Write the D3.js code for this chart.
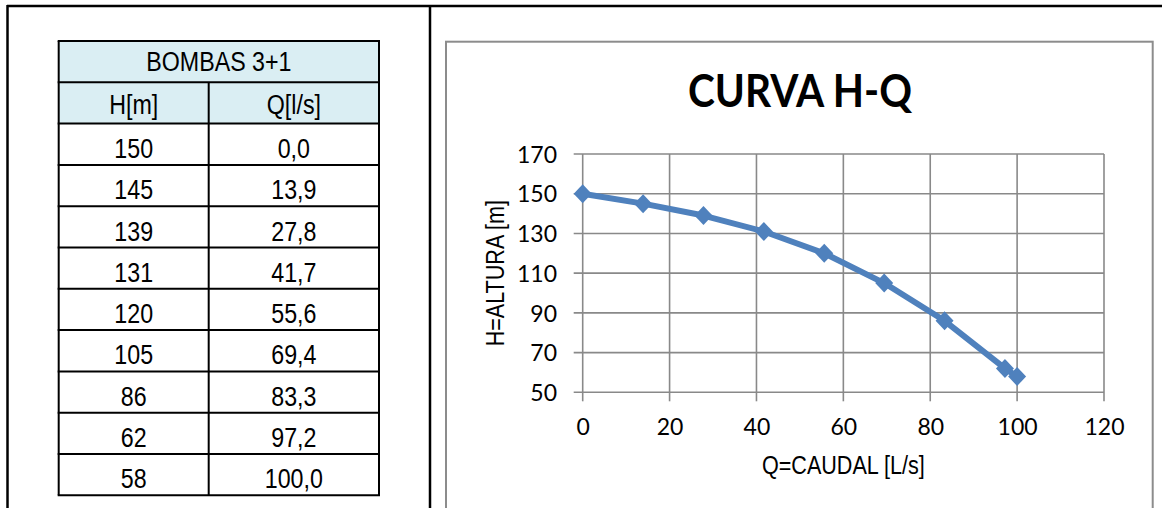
<!DOCTYPE html>
<html>
<head>
<meta charset="utf-8">
<script src="https://cdn.jsdelivr.net/npm/d3@7"></script>
<style>
  body { margin: 0; background: #fff; }
  svg { display: block; }
</style>
</head>
<body>
<script>
// pump curve data (BOMBAS 3+1)
const tableTitle = "BOMBAS 3+1";
const colHeads = ["H[m]", "Q[l/s]"];
const heights = [150, 145, 139, 131, 120, 105, 86, 62, 58];
const flows = [0.0, 13.9, 27.8, 41.7, 55.6, 69.4, 83.3, 97.2, 100.0];
const xTicks = [0, 20, 40, 60, 80, 100, 120];
const yTicks = [50, 70, 90, 110, 130, 150, 170];

const W = 1162, H = 508;
// no Arial Narrow here: squeeze Liberation Sans horizontally
const sans = "'Liberation Sans', Arial, sans-serif";
const squeeze = 0.83;
const calib = "Lato, Calibri, sans-serif";

const svg = d3.select("body").append("svg")
  .attr("width", W)
  .attr("height", H);

function narrowText(g, x, y, str, size, rot) {
  return g.append("text")
    .attr("transform", `translate(${x},${y})` + (rot ? ` rotate(${rot})` : "") + ` scale(${squeeze},1)`)
    .attr("text-anchor", "middle")
    .attr("font-family", sans)
    .attr("font-size", size)
    .attr("fill", "#000")
    .text(str);
}

// outer page frame
const frame = svg.append("g")
  .attr("stroke", "#000")
  .attr("stroke-width", 2.5);
frame.append("line").attr("x1", 7).attr("x2", W).attr("y1", 6).attr("y2", 6);
frame.append("line").attr("x1", 7.5).attr("x2", 7.5).attr("y1", 5).attr("y2", H + 5);
frame.append("line").attr("x1", 430).attr("x2", 430).attr("y1", 5).attr("y2", H + 5);

// ---- table ----
const fmt = d => d3.format(".1f")(d).replace(".", ",");
const rows = heights.map((h, i) => [String(h), fmt(flows[i])]);

const colX = [58.7, 208.7, 379];
const rowH = 41.3, tblTop = 41;
const ty = i => tblTop + i * rowH;

const tbl = svg.append("g");

tbl.append("rect")
  .attr("x", colX[0]).attr("y", ty(0))
  .attr("width", colX[2] - colX[0]).attr("height", rowH * 2)
  .attr("fill", "#daeef3");

// horizontal rules
tbl.selectAll("line.h")
  .data(d3.range(rows.length + 3))
  .join("line")
  .attr("class", "h")
  .attr("x1", colX[0] - 1).attr("x2", colX[2] + 1)
  .attr("y1", d => ty(d)).attr("y2", d => ty(d))
  .attr("stroke", "#000").attr("stroke-width", 2);

// vertical rules
tbl.selectAll("line.v")
  .data([0, 1, 2])
  .join("line")
  .attr("class", "v")
  .attr("x1", d => colX[d]).attr("x2", d => colX[d])
  .attr("y1", d => d === 1 ? ty(1) : ty(0))
  .attr("y2", ty(rows.length + 2))
  .attr("stroke", "#000").attr("stroke-width", 2);

narrowText(tbl, (colX[0] + colX[2]) / 2, ty(1) - 11, tableTitle, 28);

colHeads.forEach((v, j) => {
  narrowText(tbl, (colX[j] + colX[j + 1]) / 2, ty(2) - 10, v, 28);
});
rows.forEach((r, i) => {
  r.forEach((v, j) => {
    narrowText(tbl, (colX[j] + colX[j + 1]) / 2, ty(i + 3) - 7, v, 28);
  });
});

// ---- chart ----
svg.append("rect")
  .attr("x", 446).attr("y", 41.7)
  .attr("width", 1152.7 - 446).attr("height", H)
  .attr("fill", "#fff")
  .attr("stroke", "#8c8c8c")
  .attr("stroke-width", 2);

const x = d3.scaleLinear().domain([0, 120]).range([582.7, 1104]);
const y = d3.scaleLinear().domain([50, 170]).range([392.3, 154]);

svg.append("text")
  .attr("x", 800)
  .attr("y", 107.3)
  .attr("text-anchor", "middle")
  .attr("font-family", calib)
  .attr("font-weight", 700)
  .attr("font-size", 46)
  .attr("textLength", 224)
  .attr("lengthAdjust", "spacingAndGlyphs")
  .text("CURVA H-Q");

const grid = svg.append("g")
  .attr("stroke", "#898989")
  .attr("stroke-width", 1.6);

grid.selectAll("line.gy")
  .data(yTicks)
  .join("line")
  .attr("x1", x(0) - 9).attr("x2", x(120))
  .attr("y1", d => y(d)).attr("y2", d => y(d));

grid.selectAll("line.gx")
  .data(xTicks)
  .join("line")
  .attr("x1", d => x(d)).attr("x2", d => x(d))
  .attr("y1", y(170)).attr("y2", y(50) + 9);

const xAxis = svg.append("g")
  .attr("transform", `translate(0,${y(50)})`)
  .call(d3.axisBottom(x).tickValues(xTicks).tickSize(0));
const yAxis = svg.append("g")
  .attr("transform", `translate(${x(0)},0)`)
  .call(d3.axisLeft(y).tickValues(yTicks).tickSize(0));

[xAxis, yAxis].forEach(a => {
  a.select(".domain").remove();
  a.selectAll("text")
    .attr("font-family", calib)
    .attr("font-size", 23)
    .attr("fill", "#000");
});
xAxis.selectAll("text").attr("dy", 0).attr("y", 43);
yAxis.selectAll("text").attr("x", -25.7).attr("dy", "0.36em");

narrowText(svg, (x(0) + x(120)) / 2, 474, "Q=CAUDAL [L/s]", 26);
narrowText(svg, 504, (y(50) + y(170)) / 2, "H=ALTURA [m]", 26, -90);

const pts = flows.map((q, i) => ({q: q, h: heights[i]}));

svg.append("path")
  .datum(pts)
  .attr("fill", "none")
  .attr("stroke", "#4f81bd")
  .attr("stroke-width", 6)
  .attr("stroke-linejoin", "round")
  .attr("d", d3.line().x(d => x(d.q)).y(d => y(d.h)));

svg.selectAll("path.mk")
  .data(pts)
  .join("path")
  .attr("class", "mk")
  .attr("transform", d => `translate(${x(d.q)},${y(d.h)})`)
  .attr("d", "M0,-9.5L9,0L0,9.5L-9,0Z")
  .attr("fill", "#4f81bd");
</script>
</body>
</html>
